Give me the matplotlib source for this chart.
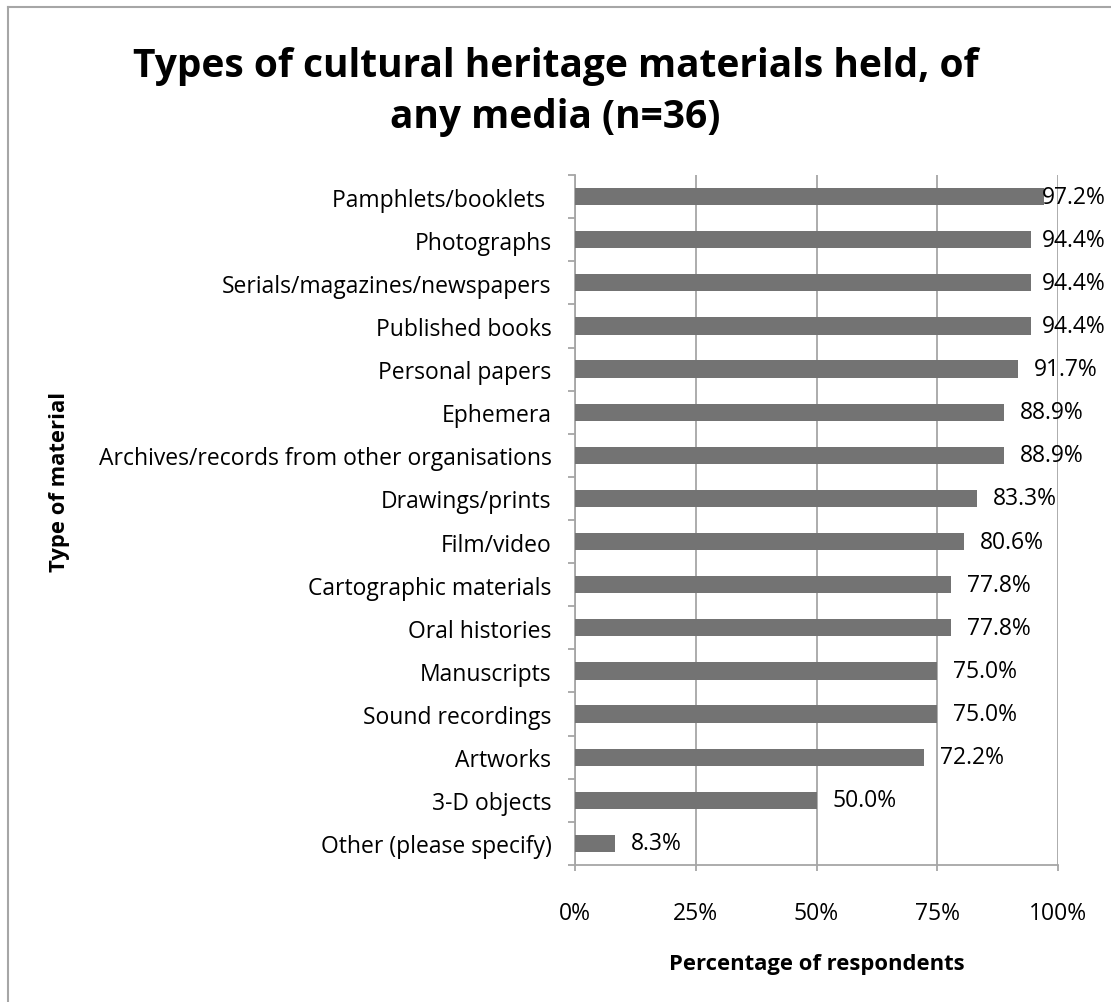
import matplotlib.pyplot as plt
from matplotlib.lines import Line2D

plt.rcParams['font.family'] = ['Open Sans', 'DejaVu Sans']

# survey results, top of list first
materials = [
    "Pamphlets/booklets ",
    "Photographs",
    "Serials/magazines/newspapers",
    "Published books",
    "Personal papers",
    "Ephemera",
    "Archives/records from other organisations",
    "Drawings/prints",
    "Film/video",
    "Cartographic materials",
    "Oral histories",
    "Manuscripts",
    "Sound recordings",
    "Artworks",
    "3-D objects",
    "Other (please specify)",
]
percent = [97.2, 94.4, 94.4, 94.4, 91.7, 88.9, 88.9, 83.3, 80.6,
           77.8, 77.8, 75.0, 75.0, 72.2, 50.0, 8.3]
xticks = [0, 25, 50, 75, 100]

fig = plt.figure(figsize=(11.11, 10.03), dpi=100)
ax = fig.add_axes([0.5176, 0.1366, 0.4347, 0.6879])

pos = list(range(len(materials)))[::-1]
ax.barh(pos, percent, height=0.4, color='#737373', zorder=3)

for y, v in zip(pos, percent):
    ax.text(min(v + 3.3, 96.7), y, f"{v:.1f}%", va='center', ha='left',
            fontsize=16.5, color='black', zorder=4)

ax.set_xlim(0, 100)
ax.set_ylim(-0.5, len(materials) - 0.5)
ax.set_xticks(xticks)
ax.set_xticklabels([f"{t}%" for t in xticks])
ax.set_yticks([p - 0.5 for p in range(len(materials) + 1)], minor=False)
ax.set_yticklabels([])
ax.set_yticks(pos, minor=True)
ax.set_yticklabels(materials, minor=True)

ax.grid(axis='x', color='#a6a6a6', linewidth=1.3, zorder=0)
for s in ['top', 'right']:
    ax.spines[s].set_visible(False)
for s in ['left', 'bottom']:
    ax.spines[s].set_color('#a6a6a6')
    ax.spines[s].set_linewidth(1.3)

ax.tick_params(axis='y', which='major', length=5, width=1.3, color='#a6a6a6')
ax.tick_params(axis='y', which='minor', length=0, pad=17, labelsize=16.5)
ax.tick_params(axis='x', length=4, width=1.3, color='#a6a6a6', pad=22,
               labelsize=16.5)

ax.set_xlabel("Percentage of respondents", fontsize=15.8, fontweight='bold',
              labelpad=20)

fig.text(0.054, 0.519, "Type of material", rotation=90, ha='center',
         va='center', fontsize=15.8, fontweight='bold')

fig.text(0.5, 0.953, "Types of cultural heritage materials held, of\nany media (n=36)",
         ha='center', va='top', fontsize=28, fontweight='bold',
         linespacing=1.41)

# outer frame (left and top edges)
fig.add_artist(Line2D([0.0075, 0.0075], [0, 0.992], color='#a6a6a6',
                      linewidth=1.5, transform=fig.transFigure))
fig.add_artist(Line2D([0.0075, 1], [0.992, 0.992], color='#a6a6a6',
                      linewidth=1.5, transform=fig.transFigure))

fig.savefig("out.png", dpi=100)
